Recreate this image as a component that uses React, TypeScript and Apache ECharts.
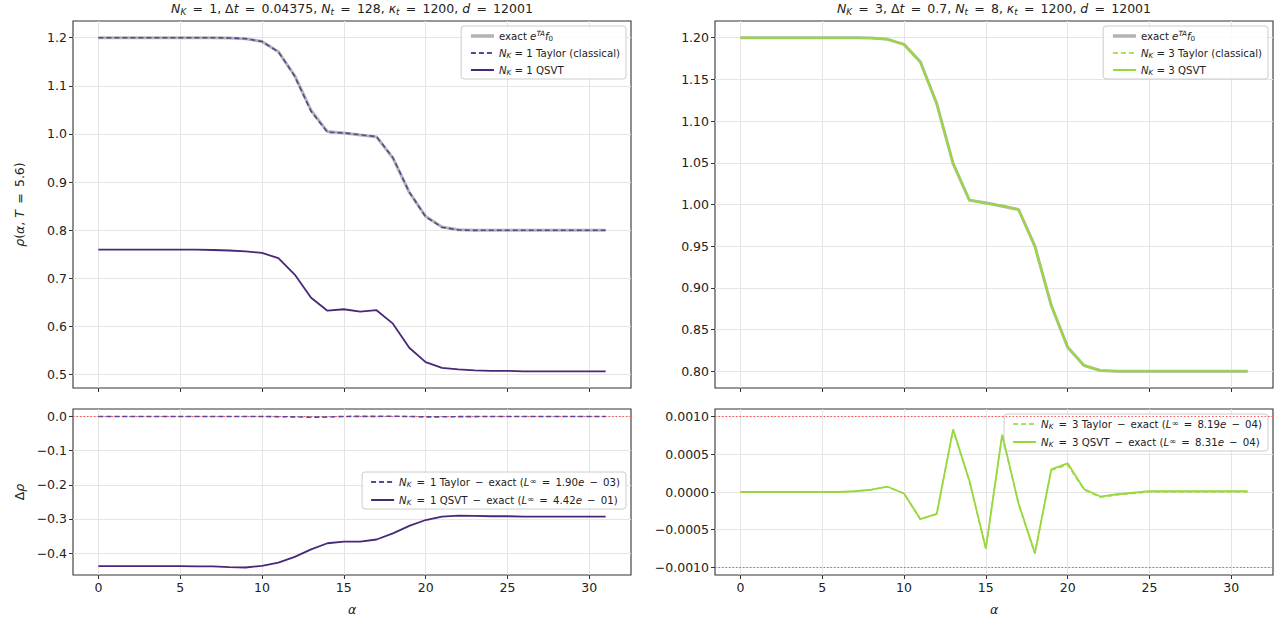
import React, { useEffect, useRef } from "react";
import * as echarts from "echarts";

const alpha = [0, 1, 2, 3, 4, 5, 6, 7, 8, 9, 10, 11, 12, 13, 14, 15, 16, 17, 18, 19, 20, 21, 22, 23, 24, 25, 26, 27, 28, 29, 30, 31];

// exact e^{TA} f0 (same for both panels, T = 5.6)
const exactRho = [1.2, 1.2, 1.2, 1.2, 1.2, 1.2, 1.2, 1.2, 1.1995, 1.198, 1.192, 1.171, 1.121, 1.049, 1.005, 1.002, 0.998, 0.994, 0.95, 0.879, 0.829, 0.807, 0.801, 0.8, 0.8, 0.8, 0.8, 0.8, 0.8, 0.8, 0.8, 0.8];

// N_K = 1
const taylor1 = [1.2, 1.2, 1.2, 1.2, 1.2, 1.2, 1.2, 1.2, 1.1995, 1.198, 1.1921, 1.1706, 1.1199, 1.0471, 1.0036, 1.0022, 0.9986, 0.9944, 0.9511, 0.8792, 0.828, 0.8062, 0.8007, 0.7999, 0.8, 0.8, 0.8, 0.8, 0.8, 0.8, 0.8, 0.8];
const qsvt1 = [0.76, 0.76, 0.76, 0.76, 0.76, 0.76, 0.76, 0.759, 0.758, 0.756, 0.753, 0.742, 0.708, 0.66, 0.633, 0.636, 0.631, 0.634, 0.606, 0.556, 0.526, 0.514, 0.511, 0.509, 0.508, 0.508, 0.507, 0.507, 0.507, 0.507, 0.507, 0.507];
const taylorDiff1 = [0, 0, 0, 0, 0, 0, 0, 0, 0, 0, 0.0001, -0.0004, -0.0011, -0.0019, -0.0014, 0.0002, 0.0006, 0.0004, 0.0011, 0.0002, -0.001, -0.0008, -0.0003, -0.0001, 0, 0, 0, 0, 0, 0, 0, 0];
const qsvtDiff1 = [-0.438, -0.438, -0.438, -0.438, -0.438, -0.438, -0.439, -0.439, -0.441, -0.442, -0.437, -0.428, -0.411, -0.389, -0.371, -0.366, -0.366, -0.36, -0.342, -0.32, -0.303, -0.293, -0.29, -0.291, -0.292, -0.292, -0.293, -0.293, -0.293, -0.293, -0.293, -0.293];

// N_K = 3
const taylor3 = [1.2, 1.2, 1.2, 1.2, 1.2, 1.2, 1.2, 1.2, 1.1995, 1.1981, 1.192, 1.1706, 1.1207, 1.0498, 1.0051, 1.0013, 0.9988, 0.9938, 0.9492, 0.8793, 0.8294, 0.807, 0.8009, 0.8, 0.8, 0.8, 0.8, 0.8, 0.8, 0.8, 0.8, 0.8];
const qsvt3 = [1.2, 1.2, 1.2, 1.2, 1.2, 1.2, 1.2, 1.2, 1.1995, 1.1981, 1.192, 1.1706, 1.1207, 1.0498, 1.0052, 1.0013, 0.9988, 0.9939, 0.9492, 0.8793, 0.8294, 0.807, 0.8009, 0.8, 0.8, 0.8, 0.8, 0.8, 0.8, 0.8, 0.8, 0.8];
const taylorDiff3 = [0, 0, 0, 0, 0, 0, 0, 0.00001, 0.00003, 0.00007, -0.00002, -0.00036, -0.00029, 0.00082, 0.00014, -0.00075, 0.00075, -0.00016, -0.00082, 0.00029, 0.00036, 0.00003, -0.00007, -0.00004, -0.00002, 0, 0, 0, 0, 0, 0, 0];
const qsvtDiff3 = [0, 0, 0, 0, 0, 0, 0, 0.00001, 0.00003, 0.00007, -0.00002, -0.00036, -0.00029, 0.00083, 0.00015, -0.00075, 0.00076, -0.00015, -0.00081, 0.0003, 0.00038, 0.00004, -0.00006, -0.00003, -0.00001, 0.00001, 0.00001, 0.00001, 0.00001, 0.00001, 0.00001, 0.00001];

const xTicks = [0, 5, 10, 15, 20, 25, 30];
const yTicksTL = [0.5, 0.6, 0.7, 0.8, 0.9, 1.0, 1.1, 1.2];
const yTicksBL = [-0.4, -0.3, -0.2, -0.1, 0.0];
const yTicksTR = [0.8, 0.85, 0.9, 0.95, 1.0, 1.05, 1.1, 1.15, 1.2];
const yTicksBR = [-0.001, -0.0005, 0, 0.0005, 0.001];
const refLines1 = [0];
const refLines3 = [0.001, -0.001];

const X_MIN = -1.55;
const X_MAX = 32.55;

const FONT = "DejaVu Sans";
const PURPLE = "#482878";
const PURPLE_D = "#5e4592";
const GREEN = "#98d83e";
const GREEN_D = "#a9e254";
const GRAY = "#b3b3b3";
const RED = "#ff3b3b";

const pts = (ys: number[]) => alpha.map((a, i) => [a, ys[i]]);
const minus = (s: string) => s.replace("-", "\u2212");

const TS = 12.5;

function baseRich(size: number, lh: number) {
  const b = { fontFamily: FONT, color: "#222", fontWeight: "normal" };
  return {
    n: { ...b, fontSize: size, lineHeight: lh, verticalAlign: "middle" },
    i: { ...b, fontSize: size, lineHeight: lh, fontStyle: "italic", verticalAlign: "middle" },
    sub: { ...b, fontSize: size * 0.7, lineHeight: size * 0.72, fontStyle: "italic", verticalAlign: "bottom" },
    subn: { ...b, fontSize: size * 0.7, lineHeight: size * 0.72, verticalAlign: "bottom" },
    sup: { ...b, fontSize: size * 0.7, lineHeight: size * 0.5, fontStyle: "italic", verticalAlign: "top" },
    supn: { ...b, fontSize: size * 0.85, lineHeight: size * 0.55, verticalAlign: "top" },
  };
}

function xAxis(gridIndex: number, bottom: boolean) {
  return {
    type: "value",
    gridIndex,
    min: X_MIN,
    max: X_MAX,
    axisLine: { show: false, onZero: false },
    axisTick: { show: true, length: 4, lineStyle: { color: "#333" }, customValues: xTicks },
    axisLabel: { show: bottom, customValues: xTicks, color: "#222", fontSize: TS, fontFamily: FONT, margin: 6 },
    splitLine: { show: true, lineStyle: { color: "#e5e5e5", width: 1 } },
    name: bottom ? "{i|α}" : "",
    nameLocation: "middle",
    nameGap: 26,
    nameTextStyle: { rich: baseRich(TS, 16) },
  };
}

function yAxis(gridIndex: number, min: number, max: number, ticks: number[], dec: number, name: string) {
  return {
    type: "value",
    gridIndex,
    min,
    max,
    axisLine: { show: false, onZero: false },
    axisTick: { show: true, length: 4, lineStyle: { color: "#333" }, customValues: ticks },
    axisLabel: {
      customValues: ticks,
      color: "#222",
      fontSize: TS,
      fontFamily: FONT,
      margin: 6,
      formatter: (v: number) => minus(v.toFixed(dec)),
    },
    splitLine: { show: true, lineStyle: { color: "#e5e5e5", width: 1 } },
    name,
    nameLocation: "middle",
    nameGap: 46,
    nameTextStyle: { rich: baseRich(TS, 16) },
  };
}

function line(name: string, data: number[], xi: number, color: string, width: number, dashed: boolean, z: number) {
  return {
    type: "line",
    name,
    xAxisIndex: xi,
    yAxisIndex: xi,
    data: pts(data),
    symbol: "none",
    showSymbol: false,
    lineStyle: { color, width, type: dashed ? [5, 3] : "solid" },
    itemStyle: { color },
    z,
    silent: true,
  };
}

// reference lines drawn as markLines between the axis limits
function refSeries(vals: number[], xi: number) {
  return {
    type: "line",
    name: `ref-${xi}`,
    xAxisIndex: xi,
    yAxisIndex: xi,
    data: [],
    symbol: "none",
    z: 5,
    silent: true,
    markLine: {
      silent: true,
      symbol: ["none", "none"],
      label: { show: false },
      lineStyle: { color: RED, width: 1.2, type: [1.5, 2], opacity: 0.85 },
      data: vals.map((v) => [{ coord: [X_MIN, v] }, { coord: [X_MAX, v] }]),
    },
  };
}

const EN = "\u2002";

const legendNames: Record<string, string> = {
  "exact": "{n|exact }{i|e}{sup|TA}{i|f}{subn|0}",
  "Taylor1": "{i|N}{sub|K}{n| = 1 Taylor (classical)}",
  "QSVT1": "{i|N}{sub|K}{n| = 1 QSVT}",
  "Taylor3": "{i|N}{sub|K}{n| = 3 Taylor (classical)}",
  "QSVT3": "{i|N}{sub|K}{n| = 3 QSVT}",
  "dTaylor1": `{i|N}{sub|K}{n|${EN}=${EN}1 Taylor${EN}−${EN}exact (}{i|L}{supn|∞}{n|${EN}=${EN}1.90}{i|e}{n|${EN}−${EN}03)}`,
  "dQSVT1": `{i|N}{sub|K}{n|${EN}=${EN}1 QSVT${EN}−${EN}exact (}{i|L}{supn|∞}{n|${EN}=${EN}4.42}{i|e}{n|${EN}−${EN}01)}`,
  "dTaylor3": `{i|N}{sub|K}{n|${EN}=${EN}3 Taylor${EN}−${EN}exact (}{i|L}{supn|∞}{n|${EN}=${EN}8.19}{i|e}{n|${EN}−${EN}04)}`,
  "dQSVT3": `{i|N}{sub|K}{n|${EN}=${EN}3 QSVT${EN}−${EN}exact (}{i|L}{supn|∞}{n|${EN}=${EN}8.31}{i|e}{n|${EN}−${EN}04)}`,
};

function legend(data: string[], pos: any) {
  return {
    data: data.map((n) => (n === "exact" ? { name: n, lineStyle: { width: 3.5, color: GRAY } } : { name: n })),
    orient: "vertical",
    ...pos,
    itemWidth: 23,
    itemHeight: 12,
    itemGap: 6,
    padding: [4, 6, 3, 8],
    backgroundColor: "rgba(255,255,255,0.85)",
    borderColor: "#cccccc",
    borderWidth: 1,
    borderRadius: 3,
    selectedMode: false,
    itemStyle: { opacity: 0 },
    formatter: (n: string) => legendNames[n],
    textStyle: { rich: baseRich(10.2, 12) },
  };
}

const titleRich = baseRich(TS, 16);
const title1 = `{i|N}{sub|K}{n|${EN}=${EN}1, Δ}{i|t}{n|${EN}=${EN}0.04375, }{i|N}{sub|t}{n|${EN}=${EN}128, }{i|κ}{sub|t}{n|${EN}=${EN}1200, }{i|d}{n|${EN}=${EN}12001}`;
const title3 = `{i|N}{sub|K}{n|${EN}=${EN}3, Δ}{i|t}{n|${EN}=${EN}0.7, }{i|N}{sub|t}{n|${EN}=${EN}8, }{i|κ}{sub|t}{n|${EN}=${EN}1200, }{i|d}{n|${EN}=${EN}12001}`;

export default function App() {
  const ref = useRef<HTMLDivElement>(null);
  useEffect(() => {
    document.body.style.margin = "0";
    document.body.style.overflow = "hidden";
    const chart = echarts.init(ref.current!, null, { renderer: "svg" });
    const gridStyle = { show: true, borderColor: "#333", borderWidth: 1.1, backgroundColor: "transparent", containLabel: false };
    chart.setOption({
      animation: false,
      backgroundColor: "#ffffff",
      title: [
        { text: title1, left: 352, top: 0, textAlign: "center", padding: 0, textStyle: { fontWeight: "normal", rich: titleRich } },
        { text: title3, left: 994, top: 0, textAlign: "center", padding: 0, textStyle: { fontWeight: "normal", rich: titleRich } },
      ],
      grid: [
        { left: 73, top: 21, width: 558, height: 367, ...gridStyle },
        { left: 73, top: 409, width: 558, height: 166, ...gridStyle },
        { left: 715, top: 21, width: 558, height: 367, ...gridStyle },
        { left: 715, top: 409, width: 558, height: 166, ...gridStyle },
      ],
      xAxis: [xAxis(0, false), xAxis(1, true), xAxis(2, false), xAxis(3, true)],
      yAxis: [
        yAxis(0, 0.4724, 1.2347, yTicksTL, 1, `{i|ρ}{n|(}{i|α}{n|, }{i|T}{n|${EN}=${EN}5.6)}`),
        yAxis(1, -0.464, 0.0221, yTicksBL, 1, "{n|Δ}{i|ρ}"),
        yAxis(2, 0.78, 1.22, yTicksTR, 2, ""),
        yAxis(3, -0.0011, 0.0011, yTicksBR, 4, ""),
      ],
      legend: [
        legend(["exact", "Taylor1", "QSVT1"], { right: 660, top: 26 }),
        legend(["dTaylor1", "dQSVT1"], { right: 660, top: 472 }),
        legend(["exact", "Taylor3", "QSVT3"], { right: 18, top: 26 }),
        legend(["dTaylor3", "dQSVT3"], { right: 18, top: 414 }),
      ],
      series: [
        line("exact", exactRho, 0, GRAY, 3, false, 2),
        line("Taylor1", taylor1, 0, PURPLE_D, 1.6, true, 3),
        line("QSVT1", qsvt1, 0, PURPLE, 1.8, false, 4),
        refSeries(refLines1, 1),
        line("dTaylor1", taylorDiff1, 1, PURPLE_D, 1.6, true, 6),
        line("dQSVT1", qsvtDiff1, 1, PURPLE, 1.8, false, 6),
        line("exact", exactRho, 2, GRAY, 3, false, 2),
        line("Taylor3", taylor3, 2, GREEN_D, 1.6, true, 3),
        line("QSVT3", qsvt3, 2, GREEN, 2, false, 4),
        refSeries(refLines3, 3),
        line("dTaylor3", taylorDiff3, 3, GREEN_D, 1.6, true, 6),
        line("dQSVT3", qsvtDiff3, 3, GREEN, 1.8, false, 6),
      ],
    });
    return () => chart.dispose();
  }, []);
  return <div ref={ref} style={{ width: 1286, height: 620 }} />;
}
